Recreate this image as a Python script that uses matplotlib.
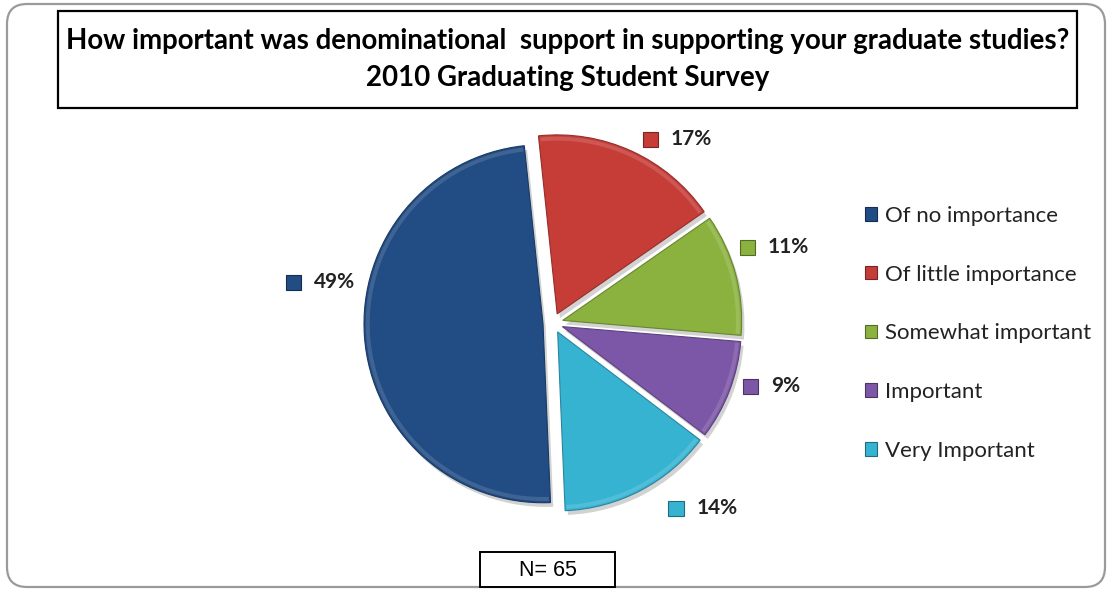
import matplotlib
matplotlib.use("Agg")
import matplotlib.pyplot as plt
import matplotlib.patheffects as pe
from matplotlib.patches import FancyBboxPatch, Rectangle, Patch, Wedge
from matplotlib.offsetbox import AnnotationBbox, DrawingArea, HPacker, TextArea
import matplotlib.colors as mcolors
import numpy as np

# ---- data ----
categories = ["Of no importance", "Of little importance", "Somewhat important",
              "Important", "Very Important"]
shares = [49, 17, 11, 9, 14]
respondents = 65
title_lines = ["How important was denominational  support in supporting your graduate studies?",
               "2010 Graduating Student Survey"]

# ---- styling / layout ----
colors = ["#214C84", "#C63D38", "#8BB23F", "#7C56A7", "#37B3D2"]
label_angles = [170, 56, 19, -16, -51]        # degrees, where each value label sits
label_radii = [1.32, 1.24, 1.31, 1.27, 1.33]   # in pie radii

W, H = 1109, 589
CX, CY, R = 553, 323, 179                      # pie centre / radius in pixels

def darker(c, f=0.7):
    r, g, b = mcolors.to_rgb(c)
    return (r * f, g * f, b * f)

def lighter(c, f=0.45):
    r, g, b = mcolors.to_rgb(c)
    return (r + (1 - r) * f, g + (1 - g) * f, b + (1 - b) * f)

fig = plt.figure(figsize=(W / 100, H / 100), dpi=100)
fig.patch.set_facecolor("white")

# background axes in pixel units (y downwards) for frames and boxes
bg = fig.add_axes([0, 0, 1, 1], zorder=0)
bg.set_xlim(0, W)
bg.set_ylim(H, 0)
bg.axis("off")

bg.add_patch(FancyBboxPatch((7, 4), 1098, 583,
                            boxstyle="round,pad=0,rounding_size=20",
                            facecolor="white", edgecolor="#9a9a9a", lw=1.6, clip_on=False))

# title box
bg.add_patch(Rectangle((58, 11), 1019, 97, facecolor="white", edgecolor="black", lw=1.6))
bg.text(567.5, 41, title_lines[0], ha="center", va="center", fontsize=19.9,
        fontweight="bold", family="Lato", color="black")
bg.text(567.5, 78, title_lines[1], ha="center", va="center", fontsize=19.9,
        fontweight="bold", family="Lato", color="black")

# respondent count box
bg.add_patch(Rectangle((480, 552), 135, 35, facecolor="white", edgecolor="black", lw=1.4))
bg.text(547.5, 570, f"N= {respondents}", ha="center", va="center", fontsize=15.5,
        family="Liberation Sans", color="black")

# pie axes: 1 data unit == pie radius, same scale on both axes
ax = fig.add_axes([0, 0, 1, 1], zorder=1)
ax.patch.set_alpha(0)

total = sum(shares)
start = 96 + 360 * shares[0] / total
wedges, _ = ax.pie(shares, colors=colors, startangle=start, counterclock=False,
                   explode=[0.056] * len(shares), radius=1,
                   wedgeprops=dict(linewidth=0.8))
for w, c in zip(wedges, colors):
    w.set_edgecolor(darker(c, 0.75))
    w.set_path_effects([pe.SimplePatchShadow(offset=(2, -3), shadow_rgbFace="#808080", alpha=0.35),
                        pe.Normal()])
    # soft bevel highlight along the outer arc
    ax.add_patch(Wedge(w.center, w.r * 0.99, w.theta1 + 0.5, w.theta2 - 0.5, width=0.022,
                       facecolor=lighter(c, 0.3), edgecolor="none", alpha=0.45,
                       zorder=w.get_zorder() + 0.1))

ax.set_xlim(-CX / R, (W - CX) / R)
ax.set_ylim(-(H - CY) / R, CY / R)
ax.set_aspect("auto")
ax.axis("off")

# value labels: coloured key square + bold percentage
for share, c, ang, rad in zip(shares, colors, label_angles, label_radii):
    da = DrawingArea(12, 12, 0, 0)
    da.add_artist(Rectangle((0, 0), 11, 11, facecolor=c, edgecolor=darker(c, 0.6), lw=0.8))
    ta = TextArea(f"{share}%", textprops=dict(fontsize=15, fontweight="bold",
                                               family="Lato", color="#222222"))
    box = HPacker(children=[da, ta], sep=8, align="center", pad=0)
    t = np.deg2rad(ang)
    ab = AnnotationBbox(box, (rad * np.cos(t), rad * np.sin(t)), xycoords="data",
                        box_alignment=(0.5, 0.5), frameon=False, pad=0)
    ax.add_artist(ab)

handles = [Patch(facecolor=c, edgecolor=darker(c, 0.6), lw=0.8) for c in colors]
fig.legend(handles, categories, loc="upper left", bbox_to_anchor=(865 / W, 1 - 206 / H),
           frameon=False, prop=dict(family="Lato", size=16), labelcolor="#222222",
           handlelength=0.55, handleheight=0.55, handletextpad=0.35,
           labelspacing=1.74, borderpad=0, borderaxespad=0)

fig.savefig("out.png", dpi=100, facecolor="white")
